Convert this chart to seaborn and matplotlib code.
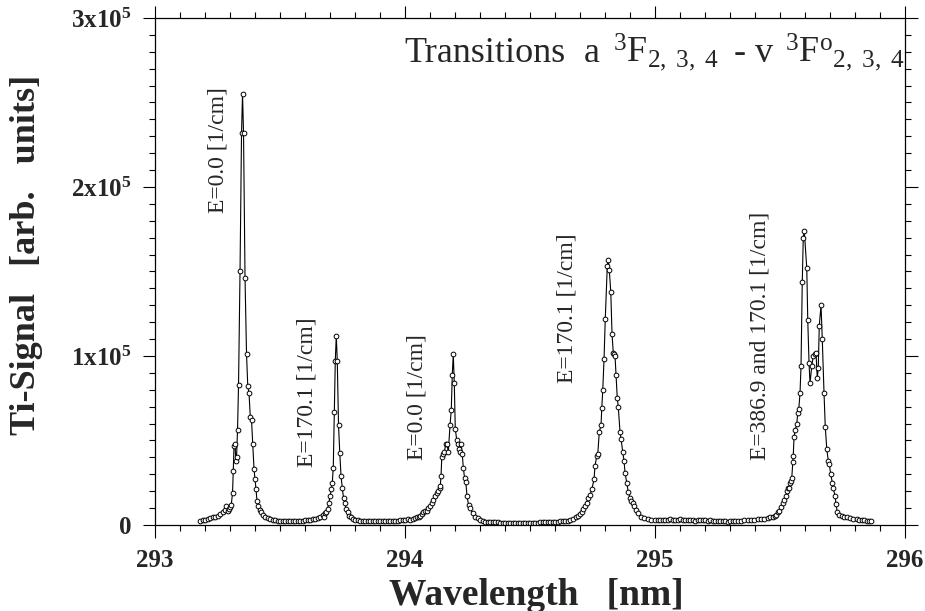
import numpy as np
import matplotlib.pyplot as plt
import seaborn as sns
from matplotlib.ticker import MultipleLocator, FuncFormatter

# Ti emission scan
# wavelength in nm, signal in 10^3 arb. units

# start of scan + line at 293.35
wl_peak1 = [293.180, 293.190, 293.200, 293.210, 293.220, 293.230, 293.240, 293.250, 293.260, 293.270,
            293.280, 293.285, 293.290, 293.295, 293.300, 293.305, 293.310, 293.313, 293.316, 293.320,
            293.323, 293.326, 293.330, 293.334, 293.340, 293.346, 293.350, 293.354, 293.360, 293.366,
            293.371, 293.376, 293.381, 293.386, 293.391, 293.396, 293.400, 293.404, 293.408, 293.413,
            293.418, 293.423, 293.430, 293.440, 293.450, 293.460, 293.470, 293.480, 293.490, 293.500]
sig_peak1 = [2.5, 3.0, 3.0, 3.5, 4.0, 4.5, 5.0, 5.5, 6.5, 7.5,
             9.0, 11.0, 8.5, 9.5, 10.5, 12.0, 19.0, 32.0, 47.0, 48.0,
             38.0, 40.0, 56.0, 83.0, 150.0, 232.0, 255.0, 232.0, 146.0, 101.0,
             82.0, 78.0, 64.0, 62.0, 48.0, 33.0, 27.0, 21.0, 14.0, 11.0,
             9.0, 7.5, 6.0, 5.0, 4.0, 3.5, 3.0, 2.8, 2.5, 2.5]

wl_base1 = [293.51, 293.52, 293.53, 293.54, 293.55, 293.56, 293.57, 293.58,
            293.59, 293.60, 293.61, 293.62, 293.63, 293.64, 293.65, 293.66]
sig_base1 = [2.4, 2.3, 2.5, 2.4, 2.3, 2.5, 2.6, 2.4,
             2.5, 2.7, 2.9, 3.2, 3.5, 3.8, 4.2, 4.5]

# line at 293.72
wl_peak2 = [293.670, 293.675, 293.680, 293.685, 293.690, 293.695, 293.700, 293.705, 293.709, 293.713,
            293.717, 293.721, 293.725, 293.729, 293.734, 293.739, 293.744, 293.749, 293.754, 293.759,
            293.764, 293.770, 293.776, 293.783, 293.790, 293.800]
sig_peak2 = [6.0, 5.0, 7.0, 7.5, 9.5, 13.0, 17.0, 21.0, 25.0, 34.0,
             67.0, 97.0, 112.0, 97.0, 59.0, 42.5, 29.0, 22.0, 16.0, 13.0,
             9.5, 7.5, 5.5, 4.5, 3.5, 3.0]

wl_base2 = [293.81, 293.82, 293.83, 293.84, 293.85, 293.86, 293.87, 293.88, 293.89, 293.90, 293.91,
            293.92, 293.93, 293.94, 293.95, 293.96, 293.97, 293.98, 293.99, 294.00, 294.01]
sig_base2 = [2.8, 2.6, 2.5, 2.4, 2.3, 2.2, 2.2, 2.3, 2.4, 2.5, 2.5,
             2.4, 2.3, 2.3, 2.4, 2.5, 2.6, 2.8, 3.0, 3.2, 3.5]

# line at 294.19
wl_peak3 = [294.020, 294.030, 294.040, 294.047, 294.054, 294.060, 294.066, 294.073, 294.080, 294.087,
            294.093, 294.100, 294.107, 294.113, 294.120, 294.127, 294.133, 294.138, 294.141, 294.144,
            294.147, 294.153, 294.157, 294.163, 294.168, 294.173, 294.180, 294.185, 294.189, 294.193,
            294.197, 294.201, 294.207, 294.211, 294.216, 294.220, 294.224, 294.229, 294.233, 294.238,
            294.243, 294.248, 294.254, 294.260, 294.270, 294.280, 294.290, 294.300, 294.310, 294.320]
sig_peak3 = [3.0, 3.5, 4.0, 4.5, 5.0, 5.5, 6.5, 7.5, 8.0, 8.5,
             10.0, 11.0, 13.0, 15.0, 17.0, 19.0, 20.0, 22.0, 23.0, 29.0,
             40.0, 42.0, 43.0, 48.0, 48.0, 43.0, 59.0, 68.0, 89.0, 101.0,
             84.0, 57.0, 50.0, 48.0, 45.0, 43.0, 48.0, 42.0, 34.0, 28.0,
             25.5, 17.0, 12.0, 10.0, 7.0, 5.0, 4.0, 3.0, 2.5, 2.0]

wl_base3 = [294.33, 294.34, 294.35, 294.36, 294.37, 294.38, 294.39, 294.40,
            294.41, 294.42, 294.43, 294.44, 294.45, 294.46, 294.47, 294.48,
            294.49, 294.50, 294.51, 294.52, 294.53, 294.54, 294.55, 294.56,
            294.57, 294.58, 294.59, 294.60, 294.61, 294.62, 294.63, 294.64]
sig_base3 = [1.8, 1.7, 1.6, 1.5, 1.5, 1.4, 1.4, 1.3,
             1.3, 1.3, 1.2, 1.2, 1.2, 1.2, 1.2, 1.2,
             1.3, 1.3, 1.3, 1.4, 1.4, 1.5, 1.5, 1.6,
             1.6, 1.7, 1.8, 1.9, 2.0, 2.1, 2.2, 2.3]

# line at 294.81
wl_peak4 = [294.650, 294.660, 294.673, 294.683, 294.693, 294.700, 294.707, 294.713, 294.720, 294.727,
            294.733, 294.740, 294.747, 294.756, 294.760, 294.767, 294.771, 294.777, 294.784, 294.787,
            294.791, 294.796, 294.801, 294.809, 294.813, 294.817, 294.823, 294.828, 294.833, 294.837,
            294.840, 294.844, 294.849, 294.853, 294.860, 294.864, 294.871, 294.876, 294.880, 294.887,
            294.893, 294.900, 294.905, 294.910, 294.916, 294.922, 294.932, 294.942, 294.956, 294.970,
            294.983]
sig_peak4 = [2.5, 3.0, 3.5, 4.5, 5.5, 6.5, 7.5, 9.5, 11.0, 13.0,
             16.0, 18.0, 21.0, 27.0, 35.0, 41.0, 42.0, 55.0, 59.0, 69.0,
             80.0, 98.0, 122.0, 153.0, 157.0, 151.0, 138.0, 113.0, 102.0, 101.0,
             100.0, 89.0, 75.0, 70.0, 55.0, 51.0, 43.0, 38.0, 31.0, 25.0,
             19.5, 16.0, 14.0, 13.0, 11.0, 9.0, 7.0, 5.0, 4.0, 3.5,
             3.0]

wl_base4 = [295.00, 295.01, 295.02, 295.03, 295.04, 295.05, 295.06, 295.07, 295.08, 295.09,
            295.10, 295.11, 295.12, 295.13, 295.14, 295.15, 295.16, 295.17, 295.18, 295.19,
            295.20, 295.21, 295.22, 295.23, 295.24, 295.25, 295.26, 295.27, 295.28]
sig_base4 = [3.0, 2.8, 3.2, 3.0, 2.7, 2.9, 3.3, 3.0, 2.8, 3.1,
             3.4, 3.0, 2.7, 2.9, 3.2, 3.0, 2.6, 2.8, 3.1, 2.9,
             2.7, 2.6, 2.8, 2.5, 2.4, 2.6, 2.3, 2.2, 2.1]

# blended lines at 295.60 / 295.66
wl_peak5 = [295.291, 295.300, 295.310, 295.320, 295.332, 295.344, 295.357, 295.370, 295.384, 295.397,
            295.410, 295.424, 295.437, 295.451, 295.461, 295.471, 295.478, 295.484, 295.491, 295.497,
            295.504, 295.511, 295.517, 295.524, 295.528, 295.531, 295.537, 295.541, 295.544, 295.547,
            295.551, 295.553, 295.556, 295.561, 295.567, 295.571, 295.575, 295.580, 295.584, 295.589,
            295.593, 295.597, 295.607, 295.611, 295.616, 295.620, 295.627, 295.633, 295.640, 295.644,
            295.649, 295.653, 295.657, 295.664, 295.669, 295.676, 295.681, 295.687, 295.693, 295.697,
            295.703, 295.709, 295.713, 295.720, 295.724, 295.729, 295.737, 295.747, 295.756, 295.767,
            295.780, 295.793, 295.807, 295.817, 295.827, 295.837, 295.847, 295.857, 295.865]
sig_peak5 = [2.0, 2.3, 2.4, 2.5, 2.4, 2.5, 2.8, 3.0, 3.1, 3.0,
             3.3, 3.5, 3.8, 4.0, 4.5, 5.0, 5.5, 6.0, 7.5, 8.5,
             10.5, 13.0, 15.0, 17.0, 20.0, 22.0, 22.0, 25.0, 26.0, 28.0,
             37.0, 41.0, 52.0, 56.0, 60.0, 66.0, 68.5, 78.0, 94.0, 144.0,
             170.0, 174.0, 152.0, 121.0, 96.0, 84.0, 94.0, 100.0, 101.0, 102.0,
             87.0, 93.0, 118.0, 130.0, 110.0, 78.0, 58.0, 45.0, 38.0, 36.0,
             30.0, 25.0, 22.0, 17.0, 12.5, 7.5, 6.0, 5.5, 5.0, 4.5,
             4.0, 3.7, 3.5, 3.2, 3.0, 2.8, 2.5, 2.4, 2.3]

line_labels = ["E=0.0 [1/cm]", "E=170.1 [1/cm]", "E=0.0 [1/cm]",
               "E=170.1 [1/cm]", "E=386.9 and 170.1 [1/cm]"]
label_x = [293.252, 293.608, 294.048, 294.648, 295.420]
label_y = [184.6, 34.3, 38.5, 84.0, 38.5]

# title pieces (text, left edge in axes fraction)
title_parts = ['Transitions', 'a', r'$^{3}$F$_{2,\ 3,\ 4}$', '-', 'v',
               r'$^{3}$F$^{o}$$_{2,\ 3,\ 4}$']
title_x = [0.333, 0.572, 0.610, 0.771, 0.800, 0.840]

wavelength = np.concatenate([wl_peak1, wl_base1, wl_peak2, wl_base2, wl_peak3,
                             wl_base3, wl_peak4, wl_base4, wl_peak5])
signal = np.concatenate([sig_peak1, sig_base1, sig_peak2, sig_base2, sig_peak3,
                         sig_base3, sig_peak4, sig_base4, sig_peak5]) * 1e3

sns.set_style("ticks")
plt.rcParams['font.family'] = ['Liberation Serif', 'DejaVu Serif']
plt.rcParams['mathtext.fontset'] = 'custom'
plt.rcParams['mathtext.rm'] = 'Liberation Serif'
plt.rcParams['mathtext.it'] = 'Liberation Serif:italic'
plt.rcParams['mathtext.bf'] = 'Liberation Serif:bold'
plt.rcParams['mathtext.default'] = 'regular'

fig = plt.figure(figsize=(9.25, 6.11), dpi=100)
ax = fig.add_axes([0.1676, 0.1408, 0.8108, 0.8298])

sns.lineplot(x=wavelength, y=signal, ax=ax, sort=False, estimator=None,
             color='black', linewidth=0.8, marker='o', markersize=3.4,
             markerfacecolor='white', markeredgecolor='black', markeredgewidth=0.7)

ax.set_xlim(293, 296)
ax.set_ylim(0, 3e5)
ax.xaxis.set_major_locator(MultipleLocator(1))
ax.xaxis.set_minor_locator(MultipleLocator(0.1))
ax.yaxis.set_major_locator(MultipleLocator(1e5))
ax.yaxis.set_minor_locator(MultipleLocator(1e4))
ax.yaxis.set_major_formatter(FuncFormatter(
    lambda v, _: '0' if v == 0 else f'{int(round(v / 1e5))}x10$^{{5}}$'))
ax.xaxis.set_major_formatter(FuncFormatter(lambda v, _: f'{v:.0f}'))

ax.tick_params(which='both', direction='out', top=True, right=True,
               labeltop=False, labelright=False, color='black', width=0.8)
ax.tick_params(which='major', length=9, labelsize=18, pad=8)
ax.tick_params(which='minor', length=4.5)
for lab in ax.get_xticklabels() + ax.get_yticklabels():
    lab.set_fontweight('bold')
for sp in ax.spines.values():
    sp.set_linewidth(0.9)
    sp.set_color('black')

ax.set_xlabel('Wavelength   [nm]', fontsize=27, fontweight='bold')
ax.set_ylabel('Ti-Signal   [arb.   units]', fontsize=26, fontweight='bold')
ax.xaxis.set_label_coords(0.509, -0.104)
ax.yaxis.set_label_coords(-0.149, 0.532)

for part, tx in zip(title_parts, title_x):
    ax.text(tx, 0.913, part, transform=ax.transAxes, fontsize=26,
            ha='left', va='baseline')

for txt, lx, ly in zip(line_labels, label_x, label_y):
    ax.text(lx, ly * 1e3, txt, rotation=90, ha='center', va='bottom', fontsize=17)

fig.savefig('out.png', dpi=100)
